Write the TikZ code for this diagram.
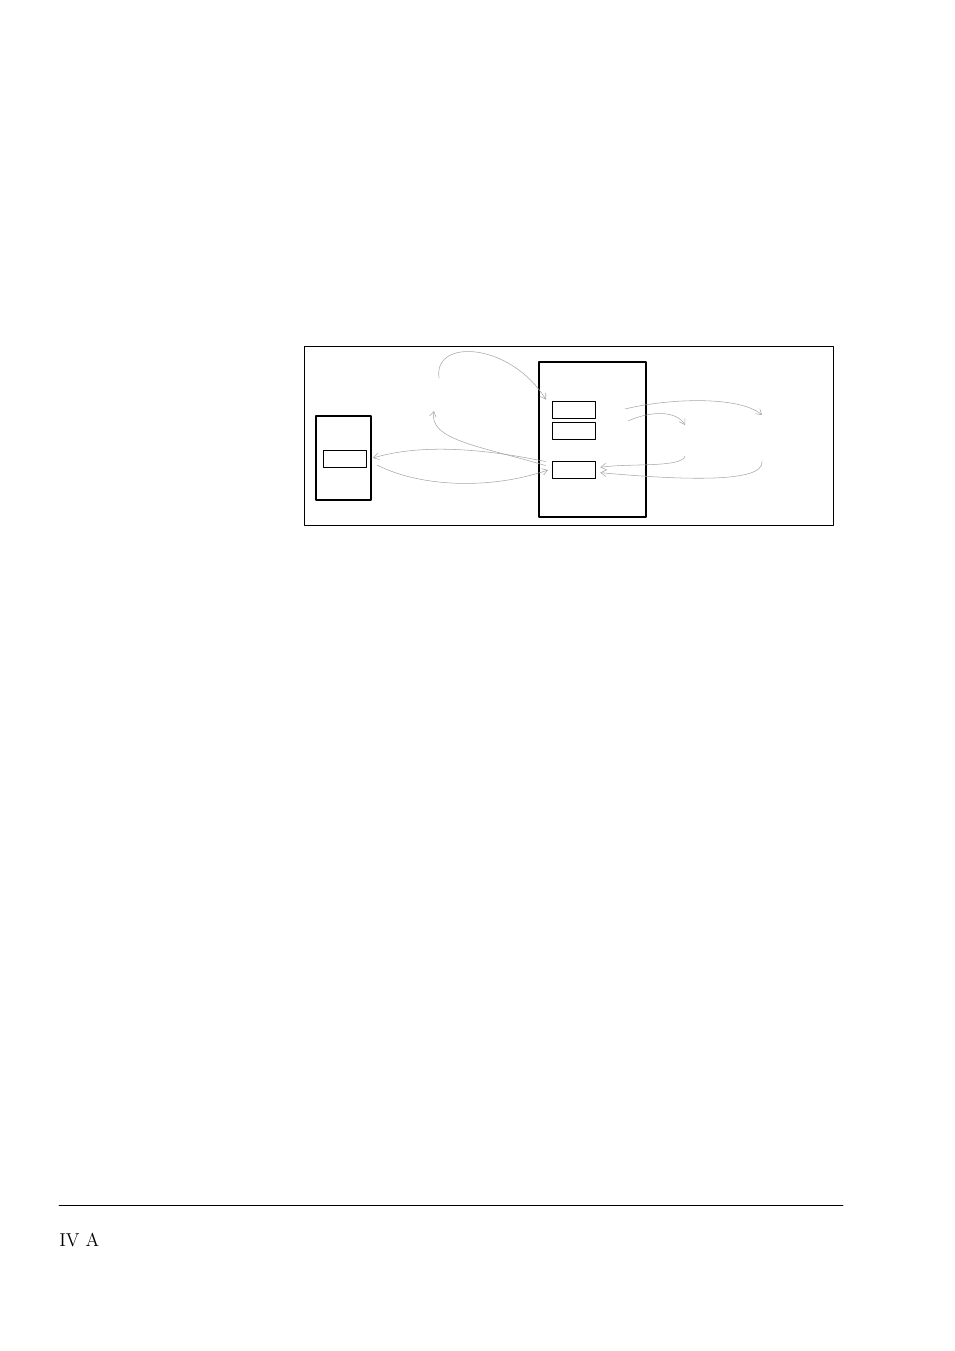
\documentclass[tikz,border=0pt]{standalone}
\usetikzlibrary{arrows.meta}
\tikzset{
  frame/.style={draw, line width=1.3pt, inner sep=0pt, outer sep=0pt},
  slot/.style={draw, line width=0.6pt, inner sep=0pt, outer sep=0pt,
    minimum width=32.25pt, minimum height=12.75pt},
  link/.style={draw=gray!70, line width=0.4pt, ->}
}
\begin{document}
\begin{tikzpicture}[x=0.75pt, y=-0.75pt, line join=round, line cap=round,
    >={Straight Barb[length=4pt, width=5pt]}]
  \useasboundingbox (0,0) rectangle (954,1351);
  % outer frame
  \draw[line width=0.6pt] (304,346) rectangle (833,525);
  % left unit
  \node[frame, minimum width=41.25pt, minimum height=63pt] (lbox) at (343.5,458) {};
  \node[slot] (lslot) at (344.5,458.5) {};
  % right unit
  \node[frame, minimum width=80.25pt, minimum height=116.25pt] (rbox) at (592.5,439.5) {};
  \node[slot] (ra) at (573.5,409.5) {};
  \node[slot] (rb) at (573.5,430.5) {};
  \node[slot] (rc) at (573.5,470) {};
  % loose ends
  \coordinate (p1) at (439,378);
  \coordinate (p2) at (434,411);
  \coordinate (p3) at (625,409);
  \coordinate (p4) at (762,415);
  \coordinate (p5) at (628,421);
  \coordinate (p6) at (685,425);
  \coordinate (p7) at (685,456);
  \coordinate (p8) at (762,461);
  % arrows
  \draw[link] (p1) .. controls (433,338) and (510,342) .. ([xshift=-4.5pt,yshift=1pt]ra.north west);
  \draw[link] ([xshift=-5pt,yshift=-3pt]rc.north west) .. controls (480,446) and (428,440) .. (p2);
  \draw[link] ([xshift=-5pt]rc.north west) .. controls (480,448) and (420,444) .. ([xshift=1.5pt]lbox.east);
  \draw[link] ([xshift=4.5pt,yshift=-5.25pt]lbox.east) .. controls (420,487) and (490,490) .. ([xshift=-3pt]rc.west);
  \draw[link] (p3) .. controls (670,398) and (740,396) .. (p4);
  \draw[link] (p5) .. controls (650,411) and (676,410) .. (p6);
  \draw[link] (p7) .. controls (682,468) and (630,463) .. ([xshift=4pt,yshift=2pt]rc.east);
  \draw[link] (p8) .. controls (766,486) and (660,478) .. ([xshift=4pt,yshift=-2pt]rc.east);
  % footer
  \draw[line width=0.6pt] (59,1205) -- (843,1205);
  \node[anchor=base west, inner sep=0pt, font=\fontsize{14}{16}\selectfont] (foot) at (59,1246) {IV A};
\end{tikzpicture}
\end{document}
